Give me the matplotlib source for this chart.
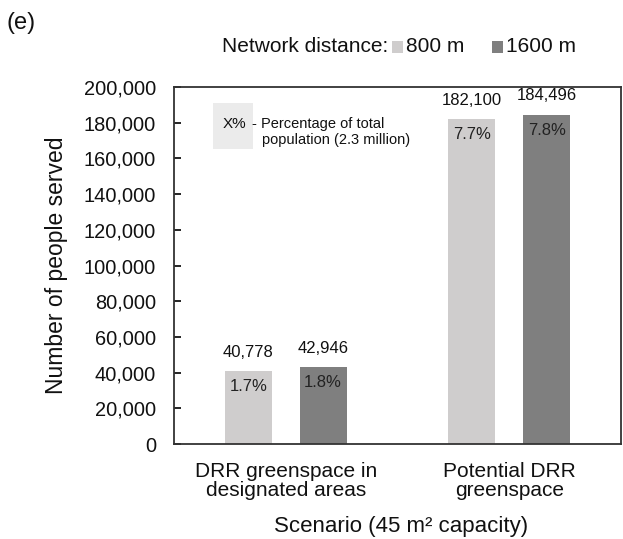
import matplotlib
matplotlib.use("Agg")
import matplotlib.pyplot as plt
from matplotlib.patches import Rectangle
from matplotlib.ticker import FuncFormatter
import numpy as np

plt.rcParams['font.family'] = ['Liberation Sans', 'DejaVu Sans']

categories = ["DRR greenspace in\ndesignated areas", "Potential DRR\ngreenspace"]
series_names = ["800 m", "1600 m"]
served_800 = [40778, 182100]
served_1600 = [42946, 184496]
pct_800 = ["1.7%", "7.7%"]
pct_1600 = ["1.8%", "7.8%"]
yticks = [0, 20000, 40000, 60000, 80000, 100000, 120000, 140000, 160000, 180000, 200000]

colors = ["#cfcdcd", "#7f7f7f"]

W, H = 623, 539
fig = plt.figure(figsize=(W / 100, H / 100), dpi=100)
ax = fig.add_axes([174 / W, 1 - 444 / H, 447 / W, 357 / H])

x = np.arange(len(categories))
width = 0.21
offset = 0.167
series = [(served_800, pct_800), (served_1600, pct_1600)]
for i, (vals, pcts) in enumerate(series):
    pos = x + (-offset if i == 0 else offset)
    bars = ax.bar(pos, vals, width, color=colors[i], label=series_names[i])
    for b, v, p in zip(bars, vals, pcts):
        cx = b.get_x() + b.get_width() / 2
        ax.text(cx, v + 8000, f"{v:,}", ha="center", va="baseline", fontsize=12, color="#111111")
        ax.text(cx, v - 4500, p, ha="center", va="top", fontsize=12, color="#222222")

ax.set_xlim(-0.5, 1.5)
ax.set_ylim(0, 200000)
ax.set_yticks(yticks)
ax.yaxis.set_major_formatter(FuncFormatter(lambda v, _: f"{int(v):,}"))
ax.tick_params(axis="y", direction="in", length=5, width=1.2, labelsize=14.4, pad=13,
               labelcolor="#111111")
ax.set_xticks(x)
ax.set_xticklabels(categories, fontsize=15, linespacing=1.0)
ax.tick_params(axis="x", length=0, pad=13, labelcolor="#111111")
for s in ax.spines.values():
    s.set_linewidth(1.3)
    s.set_color("#333333")

ax.set_ylabel("Number of people served", fontsize=16.5, color="#111111")
ax.yaxis.set_label_coords(-0.237, 0.5)
ax.set_xlabel("Scenario (45 m\u00b2 capacity)", fontsize=16, color="#111111", va="center")
ax.xaxis.set_label_coords(0.508, -0.232)

# key for the percentage labels
ax.add_patch(Rectangle((0.087, 0.826), 0.089, 0.129, transform=ax.transAxes,
                       facecolor="#ebebeb", edgecolor="none"))
ax.text(0.136, 0.896, "X%", transform=ax.transAxes, ha="center", va="center",
        fontsize=11, color="#111111")
ax.text(0.174, 0.896, "- Percentage of total", transform=ax.transAxes, ha="left",
        va="center", fontsize=10.5, color="#111111")
ax.text(0.197, 0.852, "population (2.3 million)", transform=ax.transAxes, ha="left",
        va="center", fontsize=10.5, color="#111111")

# panel letter
fig.text(7 / W, 1 - 23 / H, "(e)", fontsize=17, ha="left", va="center", color="#111111")

# inline legend: title followed by swatches
ly = 1 - 47 / H
fig.text(222 / W, ly, "Network distance:", fontsize=15, ha="left", va="center", color="#111111")
sw = 11
for name, col, px in zip(series_names, colors, [392, 492]):
    fig.add_artist(Rectangle((px / W, ly - sw / 2 / H), sw / W, sw / H,
                             transform=fig.transFigure, facecolor=col, edgecolor="none"))
    fig.text((px + sw + 3) / W, ly, name, fontsize=15, ha="left", va="center", color="#111111")

fig.savefig("out.png", dpi=100)
